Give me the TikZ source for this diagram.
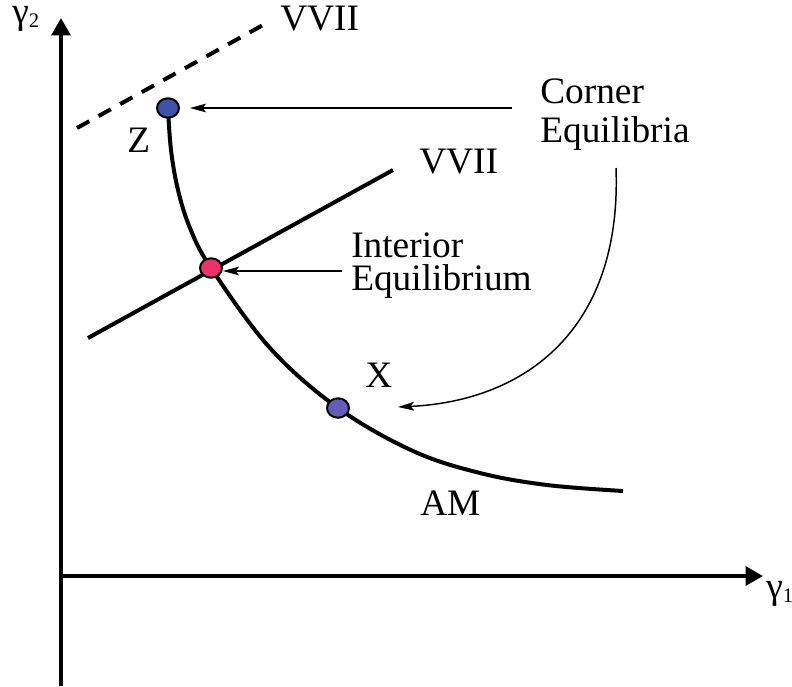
\documentclass[tikz,border=0pt]{standalone}
\usepackage{fontspec}
\setmainfont{Liberation Serif}
\usetikzlibrary{arrows.meta,shapes.geometric}
\definecolor{zblue}{RGB}{62,82,170}
\definecolor{xblue}{RGB}{100,92,182}
\definecolor{ipink}{RGB}{236,48,106}
\begin{document}
\begin{tikzpicture}[x=0.75pt,y=-0.75pt,
  axis/.style={line width=3pt,-{Triangle[length=13pt,width=14pt]}},
  heavy/.style={line width=3pt},
  thinarrow/.style={line width=1.1pt,-{Stealth[length=12pt,width=6.5pt,inset=2.5pt]}},
  dot/.style={ellipse,draw=black,line width=1.5pt,minimum width=16.5pt,minimum height=14.6pt,inner sep=0pt},
  lbl/.style={inner sep=0pt,anchor=base west,font=\fontsize{28}{30}\selectfont}]
\useasboundingbox (0,0) rectangle (792,686);
% axes
\coordinate (ybot) at (61,686);
\coordinate (ytop) at (61,18);
\coordinate (O) at (59,576);
\coordinate (xend) at (763,576);
\draw[axis] (ybot) -- (ytop);
\draw[axis] (O) -- (xend);
% VVII lines
\coordinate (d1) at (77,128);
\coordinate (d2) at (263,25);
\draw[heavy,dash pattern=on 10.5pt off 8pt] (d1) -- (d2);
\coordinate (s1) at (88,338);
\coordinate (s2) at (393,170);
\draw[heavy] (s1) -- (s2);
% AM curve
\draw[heavy] plot[smooth,tension=0.6] coordinates {(168,108) (171,150) (178,190) (190,228) (211,268) (270,348) (338,408) (413,451) (480,473) (547,485) (623,491)};
% dots
\node[dot,fill=zblue] (Z) at (168,108) {};
\node[dot,fill=ipink] (P) at (211,268) {};
\node[dot,fill=xblue] (Xd) at (338,408) {};
% labels
\node[lbl] (vv1) at (280,30) {VVII};
\node[lbl] (vv2) at (419,173) {VVII};
\node[lbl] (zl) at (127,152) {Z};
\node[lbl] (xl) at (365,387) {X};
\node[lbl] (am) at (420,515) {AM};
\node[lbl] (c1) at (540,103) {Corner};
\node[lbl] (c2) at (540,142) {Equilibria};
\node[lbl] (i1) at (351,257) {Interior};
\node[lbl] (i2) at (351,290) {Equilibrium};
\node[lbl] (g2) at (12,23) {γ\raisebox{-3pt}{\fontsize{15.5}{16}\selectfont 2}};
\node[lbl] (g1) at (766,598) {γ\raisebox{-3pt}{\fontsize{15.5}{16}\selectfont 1}};
% arrows
\coordinate (cs) at (512,108);
\draw[thinarrow,shorten >=7.5pt] (cs) -- (Z.east);
\coordinate (is) at (342,271);
\draw[thinarrow] (is) -- (is -| P.east);
\coordinate (ccs) at (616,168);
\coordinate (cct) at (398,407);
\draw[thinarrow] (ccs) .. controls (622,330) and (525,401) .. (cct);
\end{tikzpicture}
\end{document}
